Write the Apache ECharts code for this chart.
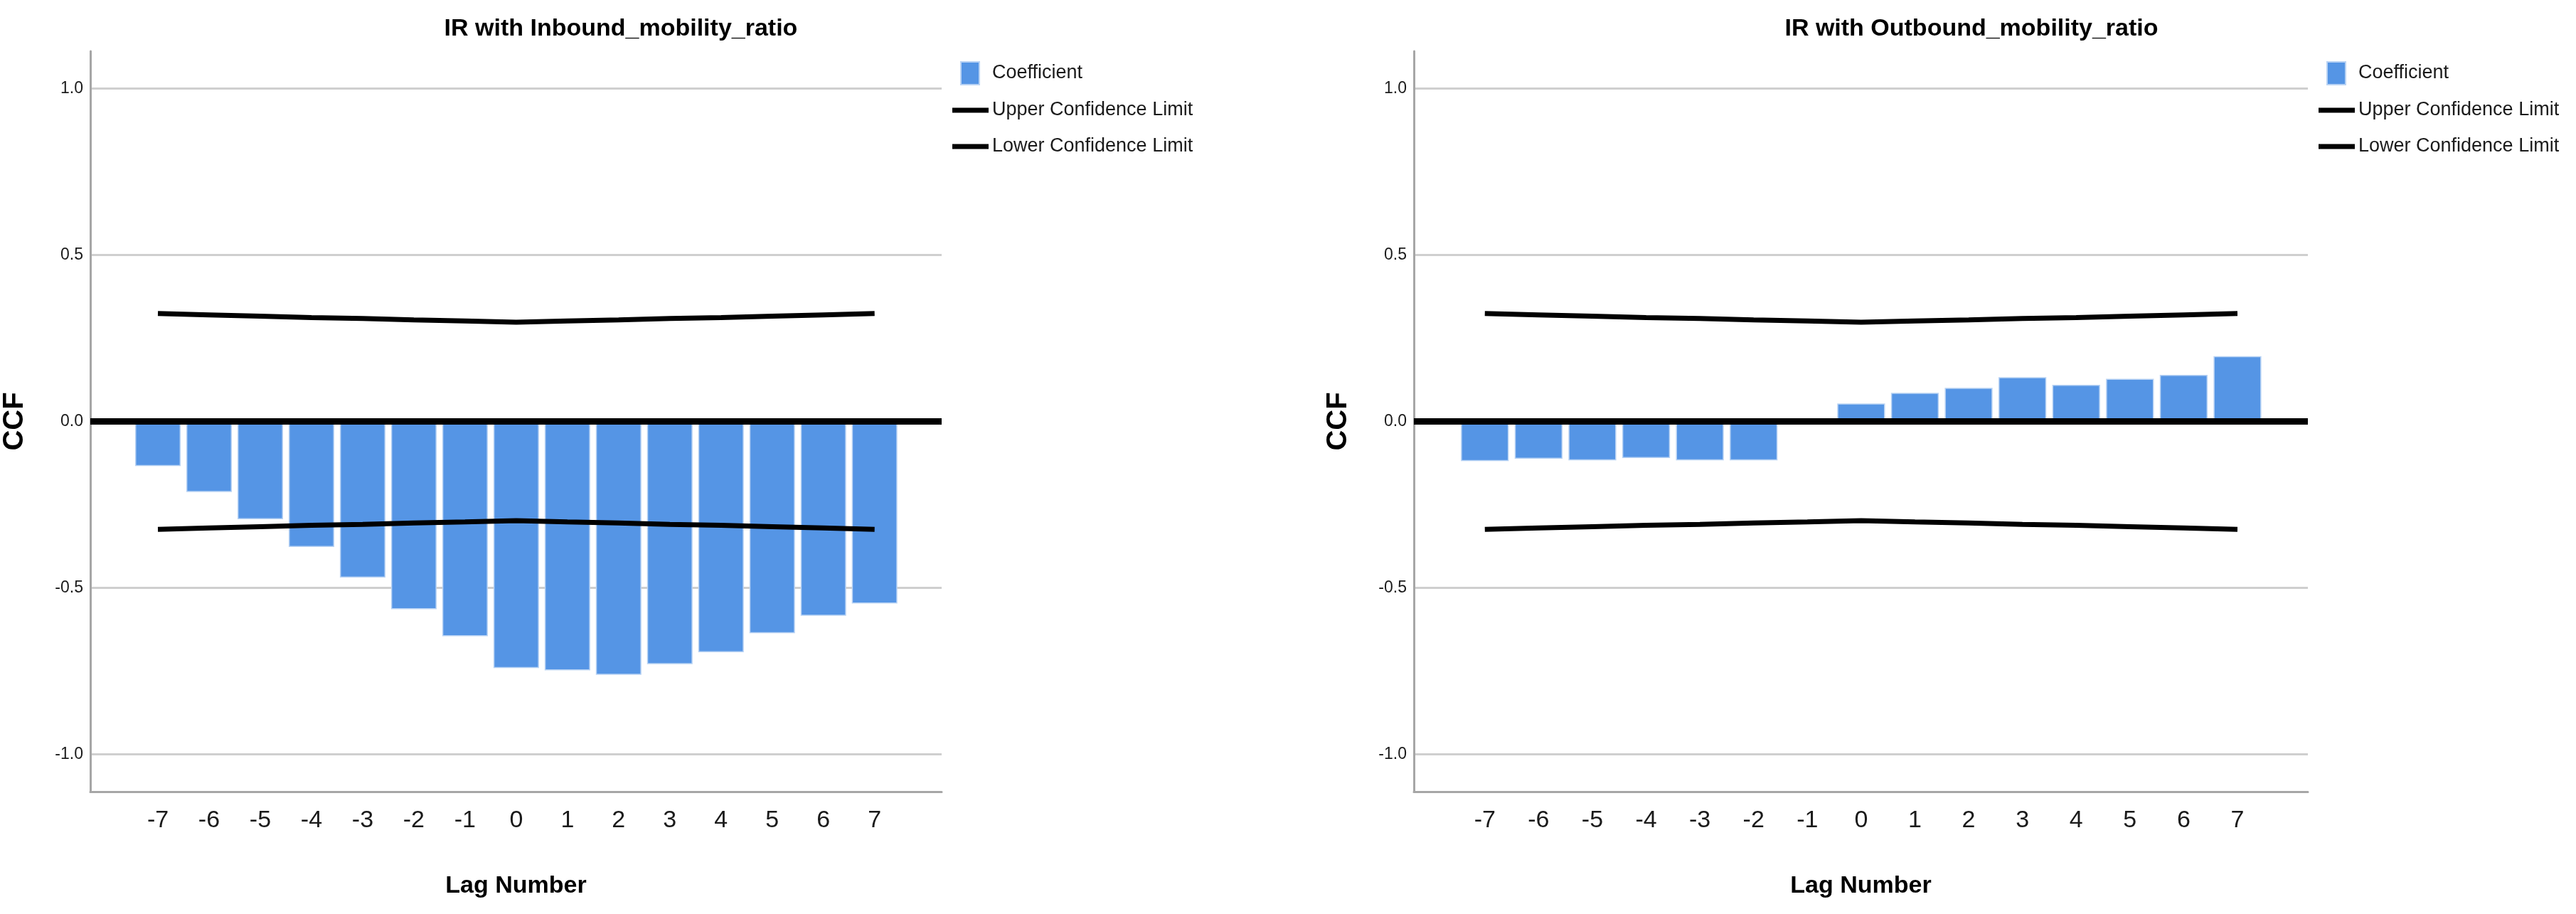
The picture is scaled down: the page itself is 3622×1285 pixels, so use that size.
<!DOCTYPE html>
<html>
<head>
<meta charset="utf-8">
<script src="https://cdn.jsdelivr.net/npm/echarts@6/dist/echarts.min.js"></script>
<style>
  html, body { margin: 0; padding: 0; background: #ffffff; }
  #chart { width: 3622px; height: 1285px; }
</style>
</head>
<body>
<div id="chart"></div>
<script>
// ---- data ----
const lags = [-7, -6, -5, -4, -3, -2, -1, 0, 1, 2, 3, 4, 5, 6, 7];
const inboundCoef = [-0.134, -0.212, -0.294, -0.377, -0.469, -0.564, -0.645, -0.741, -0.748, -0.761, -0.729, -0.693, -0.636, -0.584, -0.547];
const outboundCoef = [-0.119, -0.112, -0.117, -0.110, -0.117, -0.117, 0.000, 0.054, 0.086, 0.101, 0.133, 0.110, 0.128, 0.140, 0.196];
const upperCL = [0.324, 0.320, 0.316, 0.312, 0.309, 0.305, 0.302, 0.298, 0.302, 0.305, 0.309, 0.312, 0.316, 0.320, 0.324];
const lowerCL = [-0.324, -0.320, -0.316, -0.312, -0.309, -0.305, -0.302, -0.298, -0.302, -0.305, -0.309, -0.312, -0.316, -0.320, -0.324];
const yTicks = [-1.0, -0.5, 0.0, 0.5, 1.0];
const chartTitles = ['IR with Inbound_mobility_ratio', 'IR with Outbound_mobility_ratio'];
const seriesNames = ['Coefficient', 'Upper Confidence Limit', 'Lower Confidence Limit'];

// ---- styling / layout ----
const FONT = "'Liberation Sans', Arial, sans-serif";
const grids = [
  { left: 127, top: 72, width: 1197, height: 1041 },
  { left: 1988, top: 72, width: 1257, height: 1041 }
];
const legendPos = [{ left: 1333, top: 81 }, { left: 3254, top: 81 }];
const titlePos = [{ x: 873, y: 41 }, { x: 2772, y: 41 }];
const coefSets = [inboundCoef, outboundCoef];

const COEF_ICON = 'path://M0,0M51,32M12,0h26v32h-26z';
const LINE_ICON = 'path://M0,0M51,32M0,12.5h51v7h-51z';

const xAxes = [], yAxes = [], series = [], legends = [], graphics = [];
for (let i = 0; i < 2; i++) {
  xAxes.push({
    type: 'value', gridIndex: i, min: -8.32, max: 8.31,
    axisLine: { show: true, onZero: false, lineStyle: { color: '#a6a6a6', width: 3 } },
    axisTick: { show: false },
    splitLine: { show: false },
    axisLabel: {
      customValues: lags, fontSize: 34, fontFamily: FONT, color: '#1a1a1a', margin: 24,
      formatter: v => String(v)
    },
    name: 'Lag Number', nameLocation: 'middle', nameGap: 116,
    nameTextStyle: { fontSize: 34, fontWeight: 'bold', fontFamily: FONT, color: '#000' }
  });
  yAxes.push({
    type: 'value', gridIndex: i, min: -1.112, max: 1.112,
    axisLine: { show: true, onZero: false, lineStyle: { color: '#a6a6a6', width: 3 } },
    axisTick: { show: false, customValues: yTicks },
    splitLine: { show: true, lineStyle: { color: '#cfcfcf', width: 3 } },
    axisLabel: {
      customValues: yTicks, fontSize: 23, fontFamily: FONT, color: '#1a1a1a', margin: 10,
      formatter: v => Number(v).toFixed(1)
    },
    name: 'CCF', nameLocation: 'middle', nameGap: 86, nameRotate: 90,
    nameTextStyle: { fontSize: 40, fontWeight: 'bold', fontFamily: FONT, color: '#000' }
  });
  series.push({
    type: 'bar', name: seriesNames[0], xAxisIndex: i, yAxisIndex: i,
    data: lags.map((l, k) => [l, coefSets[i][k]]),
    barWidth: '89%',
    itemStyle: { color: '#5595E5', borderColor: '#b9d3f4', borderWidth: 1.5 },
    z: 2,
    markLine: {
      silent: true, symbol: ['none', 'none'], label: { show: false },
      lineStyle: { color: '#000', width: 9, type: 'solid' },
      emphasis: { disabled: true },
      data: [{ yAxis: 0 }]
    }
  });
  series.push({
    type: 'line', name: seriesNames[1], xAxisIndex: i, yAxisIndex: i,
    data: lags.map((l, k) => [l, upperCL[k]]),
    symbol: 'none', lineStyle: { color: '#000', width: 7 }, itemStyle: { color: '#000' }, z: 4
  });
  series.push({
    type: 'line', name: seriesNames[2], xAxisIndex: i, yAxisIndex: i,
    data: lags.map((l, k) => [l, lowerCL[k]]),
    symbol: 'none', lineStyle: { color: '#000', width: 7 }, itemStyle: { color: '#000' }, z: 4
  });
  legends.push({
    left: legendPos[i].left, top: legendPos[i].top, orient: 'vertical',
    itemWidth: 51, itemHeight: 32, itemGap: 19, selectedMode: false,
    textStyle: { fontFamily: FONT, fontSize: 27, color: '#1a1a1a' },
    data: [
      { name: seriesNames[0], icon: COEF_ICON },
      { name: seriesNames[1], icon: LINE_ICON },
      { name: seriesNames[2], icon: LINE_ICON }
    ]
  });
  graphics.push({
    type: 'text', x: titlePos[i].x, y: titlePos[i].y,
    style: {
      text: chartTitles[i], fill: '#000',
      font: "bold 34px " + FONT,
      align: 'center', verticalAlign: 'middle',
      textAlign: 'center', textVerticalAlign: 'middle'
    }
  });
}

const chart = echarts.init(document.getElementById('chart'), null, { renderer: 'canvas' });
chart.setOption({
  backgroundColor: '#ffffff',
  animation: false,
  grid: grids,
  xAxis: xAxes,
  yAxis: yAxes,
  legend: legends,
  graphic: graphics,
  series: series
});
</script>
</body>
</html>
